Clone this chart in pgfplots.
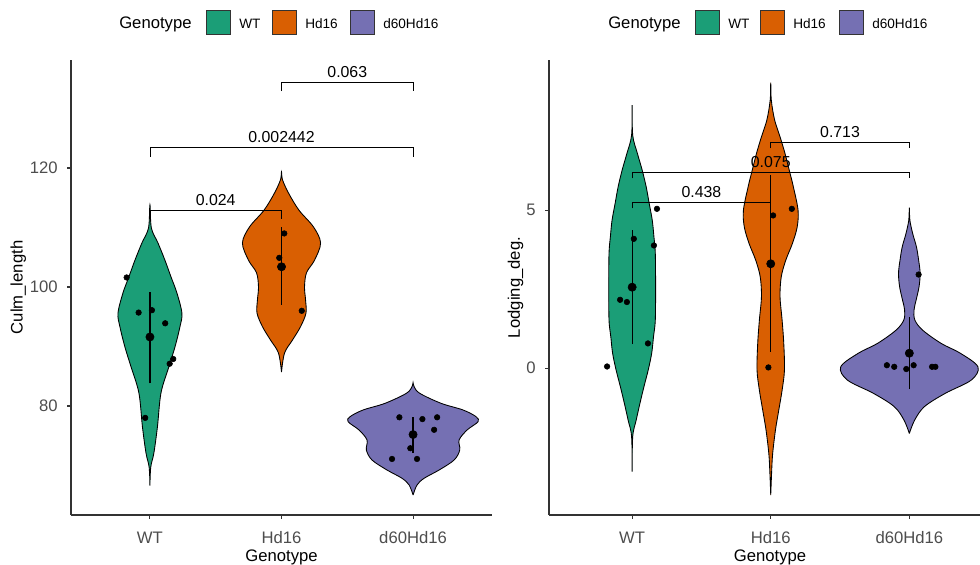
\documentclass[border=0pt]{standalone}
\usepackage{fontspec}
\setmainfont{Liberation Sans}
\usepackage{pgfplots}
\pgfplotsset{compat=1.18}
\usepackage{pgfplotstable}

\definecolor{cWT}{HTML}{1B9E77}
\definecolor{cHd}{HTML}{D95F02}
\definecolor{cD}{HTML}{7570B3}
\definecolor{gthirty}{HTML}{4D4D4D}
\definecolor{gtwenty}{HTML}{333333}

% violin outlines: y and signed offset s (x units) from the category centre
\pgfplotstableread{
y s
66.6 0
69.7 -0.006
72.1 -0.030
76.5 -0.057
82.2 -0.084
86.6 -0.144
89.9 -0.190
93.3 -0.228
95.6 -0.243
99.0 -0.205
101.7 -0.160
104.5 -0.114
107.4 -0.061
109.9 -0.011
113.8 0
109.9 0.011
107.4 0.061
104.5 0.114
101.7 0.160
99.0 0.205
95.6 0.243
93.3 0.228
89.9 0.190
86.6 0.144
82.2 0.084
76.5 0.057
72.1 0.030
69.7 0.006
66.6 0
}\LWT
\pgfplotstableread{
y s
85.7 0
88.9 -0.023
91.1 -0.084
93.3 -0.144
95.6 -0.186
97.8 -0.183
100.0 -0.175
102.4 -0.190
104.5 -0.251
107.4 -0.297
110.1 -0.243
112.9 -0.133
115.8 -0.053
118.0 -0.008
119.3 0
118.0 0.008
115.8 0.053
112.9 0.133
110.1 0.243
107.4 0.297
104.5 0.251
102.4 0.190
100.0 0.175
97.8 0.183
95.6 0.186
93.3 0.144
91.1 0.084
88.9 0.023
85.7 0
}\LHD
\pgfplotstableread{
y s
65.04 0
66.72 -0.030
67.85 -0.084
69.24 -0.198
70.92 -0.312
72.61 -0.355
74.29 -0.350
75.97 -0.411
77.36 -0.494
78.20 -0.479
79.33 -0.380
80.45 -0.213
82.13 -0.051
83.24 -0.008
83.92 0
83.24 0.008
82.13 0.051
80.45 0.213
79.33 0.380
78.20 0.479
77.36 0.494
75.97 0.411
74.29 0.350
72.61 0.355
70.92 0.312
69.24 0.198
67.85 0.084
66.72 0.030
65.04 0
}\LDD
\pgfplotstableread{
y s
-3.28 0
-2.17 -0.004
-1.65 -0.029
-1.12 -0.056
-0.59 -0.085
-0.06 -0.116
0.47 -0.141
0.99 -0.154
1.52 -0.167
2.57 -0.169
3.63 -0.167
4.16 -0.157
4.68 -0.145
5.21 -0.123
5.74 -0.101
6.27 -0.072
6.79 -0.038
7.37 -0.004
8.32 0
7.37 0.004
6.79 0.038
6.27 0.072
5.74 0.101
5.21 0.123
4.68 0.145
4.16 0.157
3.63 0.167
2.57 0.169
1.52 0.167
0.99 0.154
0.47 0.141
-0.06 0.116
-0.59 0.085
-1.12 0.056
-1.65 0.029
-2.17 0.004
-3.28 0
}\RWT
\pgfplotstableread{
y s
-4.02 0
-3.23 -0.007
-2.70 -0.014
-1.96 -0.034
-1.33 -0.058
-0.70 -0.082
-0.06 -0.099
0.78 -0.094
1.52 -0.082
2.26 -0.067
2.89 -0.076
3.42 -0.109
3.95 -0.157
4.47 -0.191
5.00 -0.197
5.74 -0.163
6.27 -0.133
6.79 -0.103
7.32 -0.067
7.85 -0.028
8.48 -0.004
9.03 0
8.48 0.004
7.85 0.028
7.32 0.067
6.79 0.103
6.27 0.133
5.74 0.163
5.00 0.197
4.47 0.191
3.95 0.157
3.42 0.109
2.89 0.076
2.26 0.067
1.52 0.082
0.78 0.094
-0.06 0.099
-0.70 0.082
-1.33 0.058
-1.96 0.034
-2.70 0.014
-3.23 0.007
-4.02 0
}\RHD
\pgfplotstableread{
y s
-2.07 0
-1.65 -0.038
-1.22 -0.109
-0.80 -0.259
-0.38 -0.447
0.04 -0.495
0.47 -0.368
0.78 -0.230
1.20 -0.096
1.52 -0.040
1.84 -0.034
2.15 -0.049
2.57 -0.070
3.00 -0.078
3.42 -0.067
3.84 -0.051
4.26 -0.024
4.68 -0.004
5.08 0
4.68 0.004
4.26 0.024
3.84 0.051
3.42 0.067
3.00 0.078
2.57 0.070
2.15 0.049
1.84 0.034
1.52 0.040
1.20 0.096
0.78 0.230
0.47 0.368
0.04 0.495
-0.38 0.447
-0.80 0.259
-1.22 0.109
-1.65 0.038
-2.07 0
}\RDD

\newcommand{\violin}[3]{%
  \addplot[fill=#3, draw=black, line width=0.65pt, smooth, tension=0.55] table[x expr=#2+\thisrow{s}, y=y]{#1};
}

\newcommand{\fs}{\fontsize{12.5}{14}\selectfont}
\newcommand{\fp}{\fontsize{11.9}{13}\selectfont}

\pgfplotsset{
  myaxis/.style={
    scale only axis, height=341.25pt,
    axis x line*=bottom, axis y line*=left,
    axis line style={gtwenty, line width=0.8pt},
    tick style={gtwenty, line width=0.8pt},
    tick align=outside, major tick length=2.8pt,
    xtick={1,2,3}, xticklabels={WT,Hd16,d60Hd16},
    xmin=0.4,
    ticklabel style={font=\fs, text=gthirty, inner sep=0pt},
    yticklabel style={anchor=east, xshift=-7pt},
    xticklabel style={anchor=base, yshift=-18.2pt},
    /pgf/number format/assume math mode=true,
    clip=false,
    xlabel=Genotype,
  },
  dots/.style={only marks, mark=*, mark size=2.1pt, black},
  meanpt/.style={only marks, mark=*, mark size=3.1pt, black},
  sdline/.style={black, line width=0.9pt},
  brk/.style={black, line width=0.6pt},
}

\begin{document}
\begin{tikzpicture}
\useasboundingbox (0pt,0pt) rectangle (735pt,423pt);

% ---------- left panel ----------
\begin{axis}[myaxis,
  at={(53.25pt,36.75pt)}, anchor=south west,
  width=315.75pt, xmax=3.6,
  ymin=61.68, ymax=138.15, ytick={80,100,120},
  ylabel={Culm\_length},
  every axis y label/.style={at={(axis description cs:-0.115,0.5)}, rotate=90, anchor=base, font=\fs, inner sep=0pt},
  every axis x label/.style={at={(axis description cs:0.5,-0.1026)}, anchor=base, font=\fs, inner sep=0pt},
]
\violin{\LWT}{1}{cWT}
\violin{\LHD}{2}{cHd}
\violin{\LDD}{3}{cD}
\addplot[sdline] coordinates {(1,83.8) (1,99.2)};
\addplot[sdline] coordinates {(2,97.0) (2,110.1)};
\addplot[sdline] coordinates {(3,72.1) (3,78.2)};
\addplot[meanpt] coordinates {(1,91.6) (2,103.4) (3,75.2)};
\addplot[dots] coordinates {(0.823,101.6) (0.914,95.7) (1.015,96.1) (1.116,93.9) (1.177,87.9) (1.150,87.1) (0.964,78.0)};
\addplot[dots] coordinates {(2.021,109.0) (1.983,104.9) (2.154,96.0)};
\addplot[dots] coordinates {(2.896,78.1) (3.071,77.8) (3.183,78.1) (3.160,76.0) (2.979,72.9) (2.840,71.1) (3.030,71.1)};
\addplot[brk] coordinates {(1,111.4) (1,112.9) (2,112.9) (2,111.4)};
\addplot[brk] coordinates {(1,121.9) (1,123.5) (3,123.5) (3,121.9)};
\addplot[brk] coordinates {(2,132.9) (2,134.4) (3,134.4) (3,132.9)};
\node[font=\fp, anchor=base, yshift=3.5pt, inner sep=0pt] at (axis cs:1.5,112.9) {0.024};
\node[font=\fp, anchor=base, yshift=3.5pt, inner sep=0pt] at (axis cs:2,123.5) {0.002442};
\node[font=\fp, anchor=base, yshift=3.5pt, inner sep=0pt] at (axis cs:2.5,134.4) {0.063};
\end{axis}

% ---------- right panel ----------
\begin{axis}[myaxis,
  at={(411.75pt,36.75pt)}, anchor=south west,
  width=323.25pt, xmax=3.51,
  ymin=-4.65, ymax=9.75, ytick={0,5},
  ylabel={Lodging\_deg.},
  every axis y label/.style={at={(axis description cs:-0.0673,0.5)}, rotate=90, anchor=base, font=\fs, inner sep=0pt},
  every axis x label/.style={at={(axis description cs:0.5128,-0.1026)}, anchor=base, font=\fs, inner sep=0pt},
]
\violin{\RWT}{1}{cWT}
\violin{\RHD}{2}{cHd}
\violin{\RDD}{3}{cD}
\addplot[sdline] coordinates {(1,0.76) (1,4.37)};
\addplot[sdline] coordinates {(2,0.52) (2,6.11)};
\addplot[sdline] coordinates {(3,-0.67) (3,1.62)};
\addplot[meanpt] coordinates {(1,2.56) (2,3.30) (3,0.47)};
\addplot[dots] coordinates {(1.179,5.04) (1.012,4.09) (1.157,3.88) (0.913,2.16) (0.962,2.09) (1.114,0.78) (0.819,0.05)};
\addplot[dots] coordinates {(2.152,5.04) (2.017,4.83) (1.983,0.02)};
\addplot[dots] coordinates {(3.067,2.96) (2.838,0.09) (2.891,0.04) (2.978,-0.03) (3.031,0.09) (3.164,0.04) (3.188,0.04)};
\addplot[brk] coordinates {(1,5.05) (1,5.24) (2,5.24) (2,5.05)};
\addplot[brk] coordinates {(1,6.00) (1,6.20) (3,6.20) (3,6.00)};
\addplot[brk] coordinates {(2,6.95) (2,7.14) (3,7.14) (3,6.95)};
\node[font=\fp, anchor=base, yshift=3.5pt, inner sep=0pt] at (axis cs:1.5,5.24) {0.438};
\node[font=\fp, anchor=base, yshift=3.5pt, inner sep=0pt] at (axis cs:2,6.20) {0.075};
\node[font=\fp, anchor=base, yshift=3.5pt, inner sep=0pt] at (axis cs:2.5,7.14) {0.713};
\end{axis}

% ---------- legends (coordinates in reference pixels, y from the bottom) ----------
\begin{scope}[x=0.75pt, y=0.75pt, every node/.style={inner sep=0pt}]
\node[font=\fs, anchor=base west] at (119,535) {Genotype};
\draw[gtwenty, line width=0.6pt, fill=cWT] (206,530) rectangle (230,554);
\draw[gtwenty, line width=0.6pt, fill=cHd] (272,530) rectangle (296,554);
\draw[gtwenty, line width=0.6pt, fill=cD] (350,530) rectangle (374,554);
\node[font=\fontsize{10.2}{12}\selectfont, anchor=base west] at (239,535.7) {WT};
\node[font=\fontsize{10.2}{12}\selectfont, anchor=base west] at (305,535.7) {Hd16};
\node[font=\fontsize{10.2}{12}\selectfont, anchor=base west] at (383,535.7) {d60Hd16};

\node[font=\fs, anchor=base west] at (608,535) {Genotype};
\draw[gtwenty, line width=0.6pt, fill=cWT] (695,530) rectangle (719,554);
\draw[gtwenty, line width=0.6pt, fill=cHd] (760,530) rectangle (784,554);
\draw[gtwenty, line width=0.6pt, fill=cD] (839,530) rectangle (863,554);
\node[font=\fontsize{10.2}{12}\selectfont, anchor=base west] at (728,535.7) {WT};
\node[font=\fontsize{10.2}{12}\selectfont, anchor=base west] at (793,535.7) {Hd16};
\node[font=\fontsize{10.2}{12}\selectfont, anchor=base west] at (872,535.7) {d60Hd16};
\end{scope}
\end{tikzpicture}
\end{document}
